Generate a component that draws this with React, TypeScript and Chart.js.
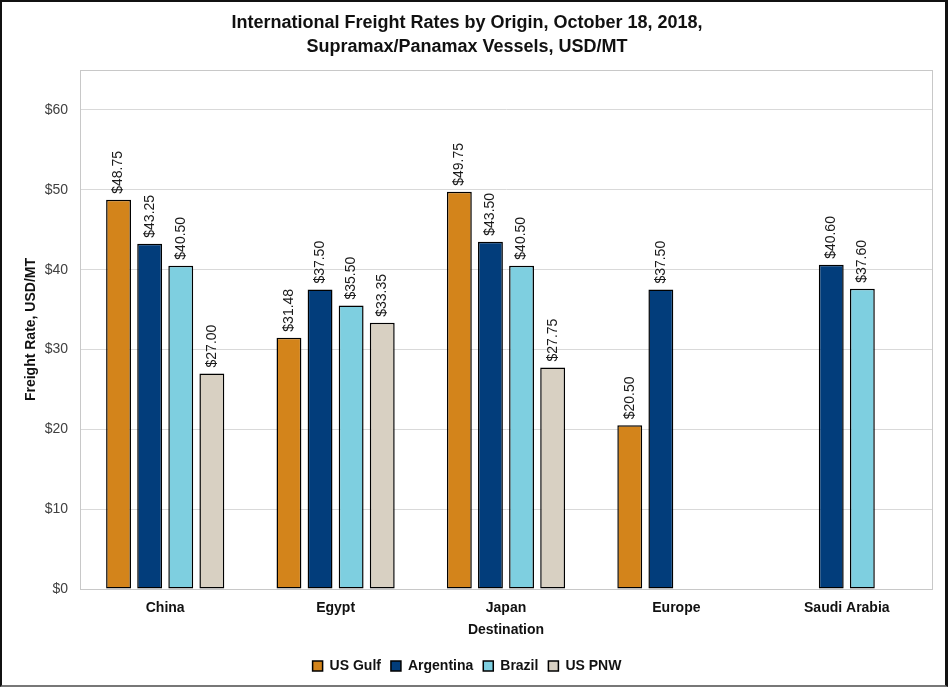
import React, { useEffect, useRef } from "react";
import { Chart, registerables } from "chart.js";

Chart.register(...registerables);

const categories = ["China", "Egypt", "Japan", "Europe", "Saudi Arabia"];
const usGulf = [48.75, 31.48, 49.75, 20.5, null];
const argentina = [43.25, 37.5, 43.5, 37.5, 40.6];
const brazil = [40.5, 35.5, 40.5, null, 37.6];
const usPnw = [27.0, 33.35, 27.75, null, null];
const seriesNames = ["US Gulf", "Argentina", "Brazil", "US PNW"];
const yTicks = [0, 10, 20, 30, 40, 50, 60];

const FONT = "'Liberation Sans', Arial, sans-serif";

const frameAndLabels = {
  id: "frameAndLabels",
  beforeDatasetsDraw(chart: any) {
    const { ctx, chartArea } = chart;
    ctx.save();
    ctx.strokeStyle = "#c8c8c8";
    ctx.lineWidth = 1;
    ctx.strokeRect(
      Math.round(chartArea.left) + 0.5,
      Math.round(chartArea.top) + 0.5,
      Math.round(chartArea.right - chartArea.left),
      Math.round(chartArea.bottom - chartArea.top)
    );
    ctx.restore();
  },
  afterDatasetsDraw(chart: any) {
    const { ctx } = chart;
    ctx.save();
    ctx.font = `14px ${FONT}`;
    ctx.fillStyle = "#1a1a1a";
    ctx.textAlign = "left";
    ctx.textBaseline = "middle";
    chart.data.datasets.forEach((ds: any, di: number) => {
      const meta = chart.getDatasetMeta(di);
      meta.data.forEach((el: any, i: number) => {
        const v = ds.data[i];
        if (v === null || v === undefined) return;
        ctx.save();
        ctx.translate(el.x, el.y - 6);
        ctx.rotate(-Math.PI / 2);
        ctx.fillText("$" + v.toFixed(2), 0, 0);
        ctx.restore();
      });
    });
    ctx.restore();
  },
};

export default function App() {
  const ref = useRef<HTMLCanvasElement>(null);
  useEffect(() => {
    if (!ref.current) return;
    const colors = ["#D3841B", "#023D7B", "#7ECFE0", "#D8D0C2"];
    const values = [usGulf, argentina, brazil, usPnw];
    const chart = new Chart(ref.current, {
      type: "bar",
      data: {
        labels: categories,
        datasets: values.map((d, i) => ({
          label: seriesNames[i],
          data: d as any,
          backgroundColor: colors[i],
          borderColor: "#000",
          borderWidth: 1.5,
          borderSkipped: false,
          categoryPercentage: 0.73,
          barPercentage: 0.8,
        })),
      },
      options: {
        responsive: false,
        animation: false,
        layout: { padding: { left: 0, right: 13, top: 0, bottom: 2 } },
        plugins: {
          title: {
            display: true,
            text: [
              "International Freight Rates by Origin, October 18, 2018,",
              "Supramax/Panamax Vessels, USD/MT",
            ],
            color: "#111",
            font: { family: FONT, size: 18, weight: "bold", lineHeight: 1.28 },
            padding: { top: 10, bottom: 12 },
          },
          legend: {
            position: "bottom",
            labels: {
              color: "#111",
              font: { family: FONT, size: 14, weight: "bold" },
              boxWidth: 10,
              boxHeight: 10,
              padding: 10,
            },
          },
          tooltip: { enabled: false },
        },
        scales: {
          x: {
            grid: { display: false, drawTicks: false },
            border: { display: true, color: "#c8c8c8" },
            ticks: {
              color: "#111",
              font: { family: FONT, size: 14, weight: "bold" },
              padding: 11,
            },
            title: {
              display: true,
              text: "Destination",
              color: "#111",
              font: { family: FONT, size: 14, weight: "bold" },
              padding: { top: 2, bottom: 10 },
            },
            afterFit: (s: any) => {
              s.height = 60;
            },
          },
          y: {
            min: 0,
            max: 65,
            grid: { color: "#d9d9d9", drawTicks: false },
            border: { display: true, color: "#c8c8c8" },
            ticks: {
              stepSize: 10,
              color: "#404040",
              font: { family: FONT, size: 14 },
              padding: 12,
              callback: (v: any) => "$" + v,
            },
            afterBuildTicks: (s: any) => {
              s.ticks = yTicks.map((v) => ({ value: v }));
            },
            title: {
              display: true,
              text: "Freight Rate, USD/MT",
              color: "#111",
              font: { family: FONT, size: 14, weight: "bold" },
              padding: { top: 21, bottom: 0 },
            },
            afterFit: (s: any) => {
              s.width = 78;
            },
          },
        },
      },
      plugins: [frameAndLabels],
    });
    return () => chart.destroy();
  }, []);
  return (
    <div
      style={{
        position: "fixed",
        left: 0,
        top: 0,
        width: 948,
        height: 687,
        boxSizing: "border-box",
        borderTop: "2px solid #111",
        borderLeft: "2px solid #111",
        borderRight: "3px solid #111",
        borderBottom: "2px solid #777",
        background: "#fff",
      }}
    >
      <canvas ref={ref} width={943} height={683} style={{ display: "block" }} />
    </div>
  );
}
